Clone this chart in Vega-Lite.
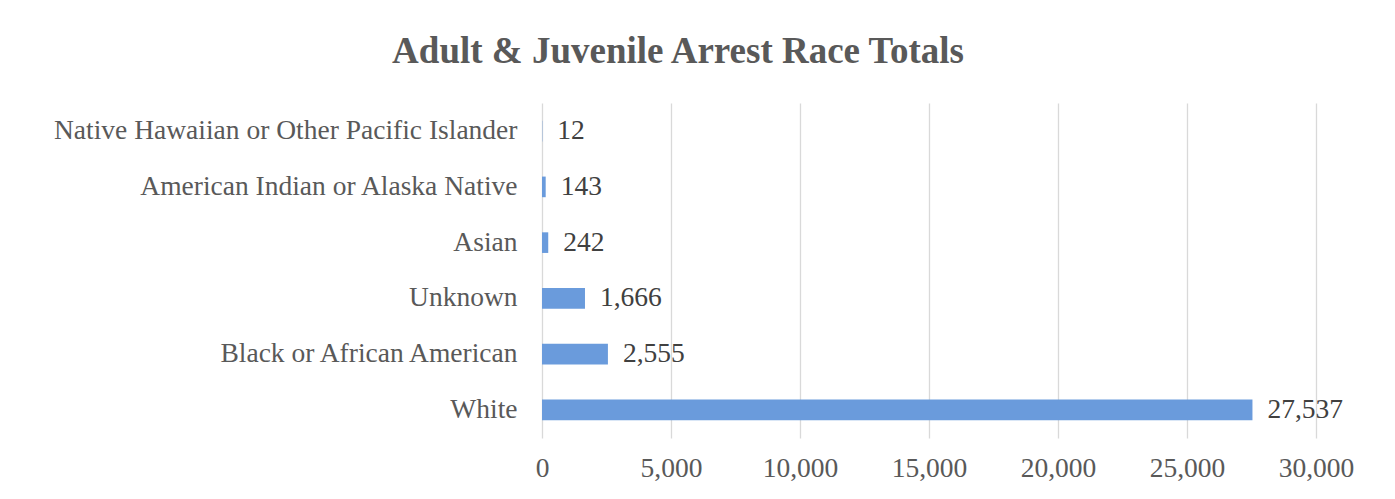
{
  "$schema": "https://vega.github.io/schema/vega-lite/v6.json",
  "width": 774,
  "height": 335,
  "autosize": {"type": "none"},
  "padding": {"left": 542, "top": 103, "right": 79, "bottom": 61},
  "background": "white",
  "title": {
    "text": "Adult & Juvenile Arrest Race Totals",
    "font": "Liberation Serif",
    "fontSize": 37,
    "fontWeight": "bold",
    "color": "#595959",
    "anchor": "middle",
    "dx": -251,
    "offset": 32
  },
  "data": {
    "values": [
      {"race": "Native Hawaiian or Other Pacific Islander", "count": 12},
      {"race": "American Indian or Alaska Native", "count": 143},
      {"race": "Asian", "count": 242},
      {"race": "Unknown", "count": 1666},
      {"race": "Black or African American", "count": 2555},
      {"race": "White", "count": 27537}
    ]
  },
  "config": {
    "view": {"stroke": null},
    "font": "Liberation Serif"
  },
  "encoding": {
    "y": {
      "field": "race",
      "type": "nominal",
      "sort": null,
      "title": null,
      "scale": {"paddingInner": 0.63, "paddingOuter": 0.32},
      "axis": {
        "domain": false,
        "ticks": false,
        "grid": false,
        "labelFont": "Liberation Serif",
        "labelFontSize": 27.5,
        "labelColor": "#595959",
        "labelPadding": 25,
        "labelLimit": 0
      }
    },
    "x": {
      "field": "count",
      "type": "quantitative",
      "title": null,
      "scale": {"domain": [0, 30000], "nice": false},
      "axis": {
        "values": [0, 5000, 10000, 15000, 20000, 25000, 30000],
        "format": ",d",
        "domain": false,
        "ticks": false,
        "grid": true,
        "gridColor": "#d9d9d9",
        "gridWidth": 1.3,
        "labelFont": "Liberation Serif",
        "labelFontSize": 27.5,
        "labelColor": "#595959",
        "labelPadding": 16,
        "labelFlush": false,
        "labelOverlap": false
      }
    }
  },
  "layer": [
    {"mark": {"type": "bar", "color": "#6a9bdc"}},
    {
      "mark": {"type": "text", "align": "left", "baseline": "middle", "dx": 15, "fontSize": 27.5, "font": "Liberation Serif", "color": "#404040"},
      "encoding": {"text": {"field": "count", "type": "quantitative", "format": ",d"}}
    }
  ]
}
